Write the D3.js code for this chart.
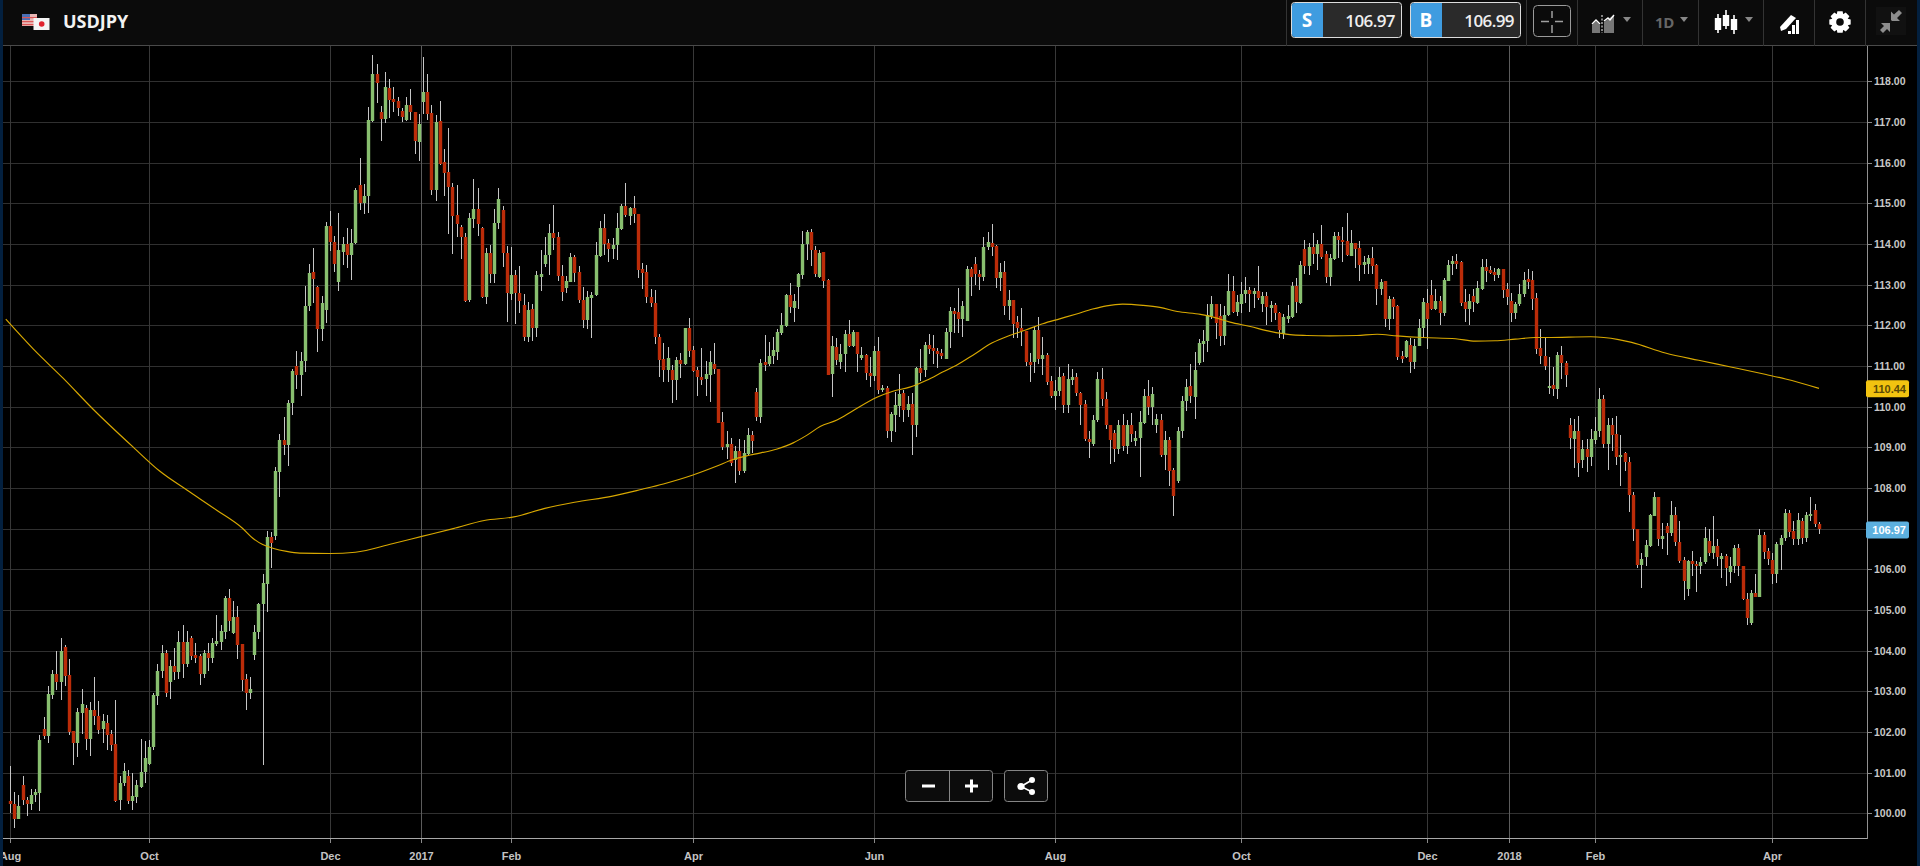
<!DOCTYPE html>
<html>
<head>
<meta charset="utf-8">
<title>USDJPY</title>
<script src="https://cdn.jsdelivr.net/npm/d3@7/dist/d3.min.js"></script>
<style>
html,body{margin:0;padding:0;background:#000;overflow:hidden}
svg{display:block}
</style>
</head>
<body>
<div id="chart"></div>
<script>
const symbol = "USDJPY";
const sellQuote = "106.97";
const buyQuote = "106.99";
const priceTicks = [100,101,102,103,104,105,106,107,108,109,110,111,112,113,114,115,116,117,118];
const monthLabels = ["Aug","Oct","Dec","2017","Feb","Apr","Jun","Aug","Oct","Dec","2018","Feb","Apr"];
const monthDays = [0,33,76,97.5,119,162,205,248,292,336,355.5,376,418];
const lastDay = 429;

const opens = [
100.30,100.23,99.86,100.70,100.33,100.23,100.45,100.51,102.07,101.90,
102.91,103.43,103.23,104.09,103.40,102.02,101.73,102.47,102.59,101.83,
102.54,102.39,102.07,102.22,101.95,101.70,100.33,100.75,100.92,100.30,
100.40,100.65,101.02,101.21,101.63,102.89,103.50,103.94,103.23,103.62,
103.48,104.21,103.67,104.31,103.89,103.87,103.43,103.94,103.82,104.16,
104.21,104.46,105.30,104.43,104.83,104.16,103.30,102.96,103.89,104.46,
105.15,105.64,106.80,106.82,108.39,109.18,109.06,110.09,111.00,110.78,
111.12,112.48,113.31,112.94,111.91,112.38,114.44,114.05,113.07,113.80,
114.00,113.73,114.02,115.45,115.01,115.18,117.02,118.18,117.25,117.07,
117.84,117.57,117.52,117.27,117.05,117.42,117.25,116.51,117.49,117.74,
117.22,115.33,117.02,116.02,115.77,115.40,114.71,114.42,114.17,112.62,
114.61,114.86,114.39,112.70,113.78,113.26,114.52,114.84,113.78,112.77,
113.24,112.80,112.50,111.71,112.40,111.93,113.19,113.51,113.73,114.27,
114.17,113.21,112.92,113.07,113.68,113.31,112.62,112.13,112.67,112.75,
113.70,114.39,114.02,113.88,113.98,114.37,114.93,114.69,114.89,114.74,
113.39,113.31,112.70,112.55,111.71,111.17,110.90,110.90,110.66,111.15,
111.05,111.93,111.39,110.90,110.73,110.68,110.78,111.05,110.93,109.62,
109.00,109.08,108.69,108.91,108.42,108.84,109.30,110.36,109.75,111.10,
111.05,111.25,111.34,111.81,111.98,112.75,112.43,112.94,113.24,114.00,
114.30,113.85,113.19,113.80,113.11,110.80,111.47,111.10,111.30,111.79,
111.49,111.84,111.20,111.27,110.84,110.76,111.38,110.43,110.47,109.41,
109.80,110.02,110.34,109.93,110.07,109.56,110.96,110.89,111.52,111.45,
111.38,111.33,111.18,111.84,112.36,112.34,112.16,112.11,113.39,113.52,
113.27,113.20,113.93,114.03,113.96,113.17,113.30,112.48,112.63,112.07,
111.94,111.87,111.11,111.11,111.89,111.18,111.28,110.64,110.25,110.39,
110.76,110.05,110.66,110.74,110.34,110.07,109.21,109.09,109.66,110.69,
110.20,109.56,109.36,108.97,109.56,109.04,109.56,109.16,109.24,109.61,
110.25,109.98,109.56,109.68,108.80,109.19,108.45,108.16,109.39,110.15,
110.50,110.23,111.07,111.53,111.61,112.22,112.52,112.22,111.73,112.25,
112.84,112.34,112.52,112.76,112.86,112.76,112.84,112.52,112.71,112.42,
112.49,112.30,111.78,112.15,112.20,112.96,112.54,113.87,113.45,113.92,
113.75,113.99,113.75,113.18,113.62,114.19,114.11,114.07,113.70,114.02,
113.89,113.48,113.52,113.65,113.48,112.89,113.08,112.15,112.64,112.47,
111.24,111.21,111.51,111.09,111.48,111.93,112.54,112.74,112.39,112.59,
112.30,113.08,113.50,113.57,113.55,112.57,112.39,112.71,112.54,112.89,
113.43,113.35,113.30,113.23,113.38,112.89,112.61,112.30,112.52,112.76,
113.13,113.11,112.66,111.45,111.25,110.52,110.54,110.44,111.28,111.08,
109.56,109.21,109.41,108.70,108.97,108.77,109.19,109.39,110.20,109.09,
109.56,109.34,108.75,108.87,108.65,107.84,107.00,106.11,106.31,106.58,
107.32,107.79,106.75,107.07,106.90,107.34,106.68,106.24,105.52,106.21,
106.14,106.07,106.19,106.70,106.41,106.58,106.26,106.34,105.94,106.09,
106.53,106.07,105.28,104.69,105.43,105.33,106.85,106.46,106.24,105.89,
106.61,106.78,107.39,106.95,106.75,107.20,106.78,107.30,107.47,107.12
];
const highs = [
101.16,100.52,100.45,100.92,100.39,100.60,100.61,101.93,102.38,103.13,
103.52,103.99,104.30,104.14,103.80,102.02,102.58,103.05,102.66,102.74,
103.35,102.76,102.44,102.42,102.05,102.79,100.92,101.24,101.07,100.98,
100.82,101.83,101.78,101.80,102.95,103.67,104.15,104.02,103.77,104.07,
104.48,104.63,104.48,104.36,104.19,103.93,104.02,104.19,104.31,104.88,
104.63,105.34,105.52,105.22,105.10,104.16,103.43,103.35,104.63,105.17,
105.89,106.94,106.91,108.52,109.33,109.75,110.16,110.93,111.36,111.34,
112.97,113.52,113.89,112.97,112.72,114.54,114.81,114.20,114.76,114.17,
114.39,114.37,115.37,116.11,115.48,117.38,118.65,118.43,117.39,118.23,
118.06,117.86,117.61,117.34,117.61,117.80,117.25,117.19,118.60,118.18,
117.42,117.17,117.52,116.33,116.85,115.49,115.44,114.47,114.26,114.75,
115.61,115.38,114.42,113.90,113.98,114.85,115.38,114.94,113.95,113.93,
113.36,113.46,112.77,112.57,112.52,113.33,113.85,114.16,114.48,114.95,
114.30,113.48,113.21,113.77,113.73,113.45,112.95,112.84,112.82,114.04,
114.57,114.74,114.12,114.14,114.75,114.98,115.49,114.90,115.19,114.74,
113.53,113.48,112.89,112.86,111.79,111.57,111.47,111.03,111.23,111.31,
111.93,112.19,111.48,110.98,111.45,111.12,111.36,111.57,110.93,109.87,
109.39,109.22,109.03,109.20,109.18,109.48,109.40,110.45,111.17,111.76,
111.58,111.71,111.91,112.30,112.76,113.04,112.76,113.29,114.32,114.34,
114.37,113.95,113.85,113.80,113.14,111.74,111.69,111.54,111.89,112.13,
111.89,111.84,111.46,111.30,111.22,111.48,111.71,110.54,110.52,109.88,
110.37,110.81,110.42,110.27,110.34,110.98,111.42,111.60,111.79,111.75,
111.44,111.42,111.93,112.46,112.43,112.93,112.60,113.46,113.44,113.69,
113.37,114.18,114.29,114.50,113.98,113.54,113.57,112.88,112.63,112.22,
112.42,111.87,111.32,111.97,112.20,111.71,111.32,110.76,110.66,110.98,
110.84,111.06,110.93,110.83,110.37,110.17,109.41,109.80,110.85,110.95,
110.37,109.56,109.43,109.66,109.83,109.66,109.84,109.41,109.90,110.44,
110.66,110.49,109.83,109.83,109.39,109.26,108.48,109.51,110.25,110.69,
111.04,111.34,111.66,111.89,112.53,112.72,112.52,112.53,112.48,113.27,
113.22,112.74,113.06,113.20,112.95,112.93,113.45,112.81,112.83,112.59,
112.54,112.32,112.27,112.49,113.06,113.16,113.57,114.11,114.03,114.26,
114.09,114.46,113.84,113.75,114.29,114.29,114.43,114.75,114.34,114.02,
114.08,113.70,113.72,113.92,113.50,113.13,113.08,112.71,112.69,112.49,
111.36,111.63,111.70,111.66,112.15,112.66,112.89,113.11,112.89,112.71,
113.16,113.60,113.70,113.76,113.57,112.89,112.76,112.89,113.08,113.64,
113.64,113.45,113.40,113.40,113.38,113.03,112.79,112.57,113.01,113.31,
113.39,113.33,112.79,111.90,111.68,111.21,110.98,111.35,111.48,111.13,
109.73,109.70,109.77,109.19,109.21,109.45,109.75,110.47,110.29,109.71,
109.73,109.78,109.30,108.89,108.77,107.89,107.00,106.39,106.73,107.37,
107.89,107.79,107.14,107.15,107.68,107.54,107.20,106.30,106.24,106.46,
106.21,106.31,107.05,106.98,107.30,106.75,106.39,106.37,106.31,106.61,
106.63,106.09,105.42,105.48,105.89,107.00,106.93,106.53,106.41,106.66,
106.84,107.49,107.46,107.20,107.39,107.27,107.42,107.79,107.61,107.17
];
const lows = [
100.00,99.64,99.86,100.20,99.93,100.08,100.29,100.06,101.83,101.74,
102.81,103.03,102.79,103.13,101.93,101.20,101.39,101.95,101.56,101.41,
102.17,101.95,101.73,101.56,101.53,100.29,100.08,100.67,100.23,100.08,
100.25,100.62,100.75,101.19,101.56,102.66,103.33,102.86,102.80,103.28,
103.30,103.33,103.60,103.77,103.69,103.16,103.34,103.50,103.70,104.11,
104.02,104.29,104.48,104.41,103.80,103.01,102.54,102.81,103.77,104.29,
101.19,104.95,106.03,106.72,107.77,108.80,108.55,109.80,110.44,110.26,
110.85,112.35,112.54,111.34,111.61,112.05,113.83,113.31,112.85,113.48,
113.41,113.11,114.00,114.84,114.73,114.76,117.00,117.47,116.53,116.98,
117.10,117.25,117.15,117.00,117.02,117.05,116.21,116.04,117.20,117.05,
115.20,115.06,115.94,115.18,114.25,113.75,114.17,113.63,112.57,112.57,
114.39,114.20,112.67,112.52,113.03,113.04,114.37,113.44,112.07,112.62,
112.03,112.30,111.61,111.59,111.61,111.72,112.84,113.43,113.24,113.85,
113.09,112.61,112.80,113.07,113.07,112.54,111.93,111.91,111.68,112.72,
113.68,113.73,113.55,113.63,113.60,114.34,114.66,114.47,114.51,113.16,
112.89,112.56,112.46,111.54,110.72,110.61,110.61,110.10,110.16,110.70,
111.02,111.22,110.85,110.26,110.53,110.26,110.11,110.80,109.60,108.93,
108.71,108.54,108.13,108.32,108.38,108.81,108.85,109.65,109.60,110.87,
111.00,111.05,111.15,111.77,111.96,112.30,112.08,112.39,113.14,113.61,
113.46,113.19,113.16,112.92,110.78,110.23,111.02,110.93,110.85,111.47,
111.47,110.85,111.15,110.66,110.49,110.64,110.32,110.37,109.23,109.12,
109.38,109.75,109.63,109.75,108.82,109.26,110.64,110.74,111.30,111.06,
110.94,111.16,111.16,111.45,111.82,111.80,111.72,112.11,112.73,112.98,
112.88,113.10,113.86,113.71,112.93,112.85,112.26,112.14,111.70,111.70,
111.48,111.01,110.61,110.84,111.06,110.78,110.54,110.22,109.93,110.25,
109.85,109.85,110.54,110.25,109.56,109.16,108.73,109.04,109.63,110.02,
109.45,108.60,108.64,108.84,108.92,108.84,109.14,109.04,108.27,109.58,
109.80,109.56,109.35,108.77,108.45,108.04,107.32,108.13,109.24,109.90,
110.08,109.69,111.02,111.11,111.35,112.15,111.66,111.49,111.51,112.23,
112.31,112.22,112.31,112.54,112.32,112.43,112.63,112.32,112.00,112.07,
112.12,111.70,111.66,112.05,112.17,112.30,112.52,113.25,113.24,113.50,
113.35,113.62,113.03,112.96,113.60,113.65,113.55,113.70,113.70,113.40,
113.10,113.25,113.25,113.25,112.49,112.74,111.95,111.89,112.15,111.14,
111.07,111.20,110.84,110.93,111.48,111.68,111.41,112.37,112.37,112.00,
112.22,113.08,113.23,113.38,112.47,112.07,112.02,112.32,112.52,112.86,
113.06,113.25,113.08,113.16,112.66,112.49,112.07,112.16,112.47,112.70,
112.89,112.37,111.29,111.04,110.91,110.32,110.25,110.20,110.69,110.48,
108.97,108.50,108.28,108.50,108.40,108.55,109.09,109.26,108.98,108.45,
108.92,108.57,108.04,108.43,107.40,106.70,106.03,105.55,106.09,106.56,
107.30,106.58,106.51,106.36,106.83,106.58,106.16,105.25,105.34,105.84,
105.45,105.89,106.14,106.32,106.26,106.07,105.78,105.60,105.67,105.92,
105.84,105.25,104.64,104.64,105.33,105.33,106.26,106.11,105.65,105.67,
105.99,106.70,106.80,106.61,106.61,106.63,106.68,107.20,107.05,106.88
];
const closes = [
100.23,99.86,100.18,100.33,100.23,100.45,100.52,101.80,101.90,102.93,
103.43,103.23,103.99,103.38,102.00,101.73,102.49,102.69,101.83,102.54,
102.39,102.05,102.27,101.93,101.68,100.30,100.75,101.04,100.30,100.43,
100.70,101.02,101.36,101.63,102.91,103.50,103.94,102.96,103.62,103.48,
104.21,103.67,104.21,103.87,103.82,103.43,103.94,103.82,104.19,104.24,
104.48,105.30,104.73,104.83,104.14,103.28,102.96,103.06,104.46,105.15,
105.66,106.80,106.65,108.42,109.18,109.06,110.09,110.88,110.78,111.12,
112.48,113.29,113.14,111.91,112.55,114.44,114.05,113.51,113.85,114.00,
113.73,114.02,115.33,115.01,115.18,117.05,118.18,117.96,117.07,117.86,
117.55,117.49,117.34,117.12,117.42,117.25,116.53,116.95,117.74,117.20,
115.33,117.00,115.97,115.75,115.40,114.69,114.49,114.17,112.60,114.64,
114.86,114.49,112.70,113.78,113.26,114.52,115.11,113.78,112.80,113.24,
112.80,112.60,111.71,112.38,111.93,113.24,113.26,113.73,114.27,114.15,
113.21,112.82,113.09,113.68,113.29,112.62,112.13,112.70,112.75,113.73,
114.39,114.00,113.88,113.98,114.39,114.93,114.71,114.89,114.74,113.36,
113.29,112.70,112.55,111.71,111.15,110.90,111.20,110.66,111.15,111.05,
111.93,111.37,110.88,110.73,110.66,110.80,111.10,110.93,109.60,109.01,
109.08,108.61,108.91,108.42,108.86,109.30,109.16,109.75,111.07,111.02,
111.25,111.39,111.84,112.01,112.75,112.45,112.60,113.26,114.00,114.30,
113.85,113.26,113.78,113.09,110.78,111.49,111.15,111.30,111.79,111.49,
111.84,111.30,111.27,110.83,110.76,111.38,110.42,110.47,109.41,109.83,
110.05,110.30,109.93,110.07,109.56,110.96,110.84,111.52,111.43,111.38,
111.30,111.25,111.84,112.36,112.29,112.16,112.48,113.39,113.20,113.25,
113.20,113.93,114.06,113.93,113.17,113.30,112.48,112.63,112.04,111.94,
111.87,111.11,111.03,111.89,111.18,111.28,110.61,110.25,110.39,110.74,
110.05,110.69,110.74,110.34,110.05,109.21,109.14,109.66,110.69,110.20,
109.56,109.19,108.97,109.56,109.04,109.56,109.34,109.24,109.63,110.25,
109.98,110.32,109.70,108.80,109.19,108.43,107.81,109.41,110.15,110.49,
110.25,110.89,111.57,111.61,112.25,112.52,112.05,111.73,112.25,112.84,
112.34,112.57,112.76,112.86,112.76,112.84,112.66,112.71,112.44,112.49,
112.30,111.88,112.20,112.22,112.96,112.57,113.48,113.45,113.92,113.75,
113.99,113.67,113.18,113.65,114.19,114.09,114.04,113.72,114.02,113.87,
113.48,113.55,113.65,113.45,112.89,113.06,112.15,112.64,112.44,111.21,
111.16,111.61,111.09,111.48,111.93,112.57,112.15,112.39,112.59,112.30,
113.11,113.48,113.57,113.50,112.54,112.39,112.61,112.57,112.91,113.43,
113.33,113.28,113.23,113.38,112.86,112.69,112.30,112.52,112.76,113.11,
113.06,112.64,111.43,111.25,111.00,110.52,110.44,111.28,111.08,110.79,
109.24,109.41,108.62,108.97,108.77,109.21,109.41,110.20,109.07,109.56,
109.31,108.75,108.82,108.65,107.84,107.00,106.11,106.26,106.61,107.34,
107.79,106.75,106.83,106.90,107.34,106.68,106.21,105.72,106.21,106.14,
106.07,106.19,106.78,106.41,106.58,106.31,106.34,106.04,106.09,106.53,
106.07,105.28,104.81,105.43,105.33,106.85,106.43,106.26,105.89,106.63,
106.78,107.39,106.93,106.75,107.22,106.78,107.34,107.37,107.12,106.98
];

const maDays = [-1,5.5,12.6,19.8,29.3,35.6,42,49,55.2,57.6,60,62.4,65.7,68.8,76,82,90.7,97.7,105.2,112.6,119.7,127,134,143,150,155,162,167.7,171.5,175.6,182,185.8,189.1,192.2,196.2,200,205.7,209.5,213.5,217.5,221.3,224.8,228.4,233.1,237.2,241.2,245.1,249.1,253.1,256.9,260.2,264,268.8,272.8,276.9,282.4,284.8,289.4,294.2,298.9,303.6,307.6,313,319.4,324.2,328.9,335,342.8,347.5,352.2,357,361.7,364.6,375,381.6,384.7,392.7,400.6,408.5,416.6,421.2,429];
const maValues = [112.15,111.42,110.70,109.93,109.00,108.41,107.95,107.46,107.01,106.77,106.61,106.52,106.44,106.40,106.39,106.42,106.63,106.81,107.00,107.20,107.29,107.50,107.65,107.80,107.97,108.10,108.32,108.54,108.70,108.81,108.96,109.11,109.30,109.51,109.67,109.90,110.23,110.38,110.48,110.65,110.85,111.03,111.26,111.57,111.75,111.89,112.04,112.16,112.28,112.40,112.48,112.52,112.49,112.44,112.34,112.27,112.22,112.08,111.97,111.85,111.77,111.75,111.74,111.75,111.78,111.74,111.70,111.67,111.61,111.62,111.66,111.70,111.70,111.72,111.65,111.58,111.32,111.14,110.97,110.79,110.68,110.45];
const maLast = 110.44;
const lastClose = 106.97;

const W = 1920, H = 866, headerH = 45, axisBottom = 838, axisRight = 1867;
const dayKnots = monthDays.concat([lastDay]);
const pixelKnots = [10,149,330,421,511,693,874,1055,1241,1427,1509,1595,1772,1819];
const x = d3.scaleLinear().domain(dayKnots).range(pixelKnots);
const y = d3.scaleLinear().domain([118,100]).range([81.33,813.33]);
const cx = d => Math.round(x(d)) + 0.5;
const cy = v => Math.round(y(v));

const svg = d3.select("#chart").append("svg").attr("width",W).attr("height",H).style("background","#000");
const defs = svg.append("defs");
defs.append("filter").attr("id","soft").append("feGaussianBlur").attr("stdDeviation",0.55);

const grid = svg.append("g");
grid.selectAll("line.h").data(priceTicks).join("line").attr("class","h")
  .attr("x1",3).attr("x2",axisRight).attr("y1",d=>cy(d)+.5).attr("y2",d=>cy(d)+.5)
  .attr("stroke","#303030");
grid.selectAll("line.v").data(monthDays).join("line").attr("class","v")
  .attr("y1",headerH).attr("y2",axisBottom).attr("x1",cx).attr("x2",cx)
  .attr("stroke",(d,i)=>/^\d{4}$/.test(monthLabels[i])?"#5c5c5c":"#383838");

const candles = d3.range(opens.length);
const plot = svg.append("g");
plot.selectAll("line.wick").data(candles).join("line").attr("class","wick")
  .attr("x1",cx).attr("x2",cx).attr("y1",i=>cy(highs[i])).attr("y2",i=>cy(lows[i]))
  .attr("stroke","#c6c6c6").attr("stroke-width",1);
plot.selectAll("rect.body").data(candles).join("rect").attr("class","body")
  .attr("x",i=>cx(i)-1.7).attr("width",3.4)
  .attr("y",i=>cy(Math.max(opens[i],closes[i])))
  .attr("height",i=>Math.max(2,cy(Math.min(opens[i],closes[i]))-cy(Math.max(opens[i],closes[i]))))
  .attr("fill",i=>closes[i]>=opens[i]?"#88bf6f":"#bb2c09");

const ma = d3.line().x(d=>x(d)).y((d,i)=>y(maValues[i])).curve(d3.curveMonotoneX);
plot.append("path").attr("d",ma(maDays)).attr("fill","none").attr("stroke","#d8a800").attr("stroke-width",1.15);

// axes
const xAxis = d3.axisBottom(x).tickValues(monthDays).tickFormat((d,i)=>monthLabels[i]).tickSize(5).tickPadding(9);
const gx = svg.append("g").attr("transform",`translate(0,${axisBottom})`).call(xAxis);
gx.select(".domain").remove();
gx.selectAll(".tick").attr("transform",d=>`translate(${cx(d)},0)`);
gx.selectAll(".tick line").attr("stroke","#8a8a8a");
gx.selectAll(".tick text").attr("fill","#c4c4c4").style("font","bold 11px 'Liberation Sans',Arial,sans-serif");
svg.append("line").attr("x1",3).attr("x2",axisRight).attr("y1",axisBottom+.5).attr("y2",axisBottom+.5).attr("stroke","#a8a8a8");

const yAxis = d3.axisRight(y).tickValues(priceTicks).tickFormat(d3.format(".2f")).tickSize(5).tickPadding(2);
const gy = svg.append("g").attr("transform",`translate(${axisRight},0)`).call(yAxis);
gy.select(".domain").remove();
gy.selectAll(".tick").attr("transform",d=>`translate(0,${cy(d)+.5})`);
gy.selectAll(".tick line").attr("stroke","#8a8a8a");
gy.selectAll(".tick text").attr("fill","#c8c8c8").style("font","bold 10.5px 'Liberation Sans',Arial,sans-serif");
svg.append("line").attr("x1",axisRight+.5).attr("x2",axisRight+.5).attr("y1",headerH).attr("y2",axisBottom+1).attr("stroke","#909090");

function badge(value, fill, color){
  const yy = y(value);
  const g = svg.append("g");
  g.append("rect").attr("x",1866).attr("y",yy-8.5).attr("width",43).attr("height",17).attr("rx",2).attr("fill",fill);
  g.append("text").attr("x",1906).attr("y",yy+4).attr("text-anchor","end")
    .attr("fill",color).style("font","bold 11px 'Liberation Sans',Arial,sans-serif").text(value.toFixed(2));
}
badge(maLast,"#f2c310","#5b4a05");
badge(lastClose,"#5cb0df","#ffffff");

// header
const hd = svg.append("g");
hd.append("rect").attr("width",W).attr("height",headerH).attr("fill","#0b0b0b");
hd.append("line").attr("x1",0).attr("x2",W).attr("y1",45.5).attr("y2",45.5).attr("stroke","#4a4a4a");
[1286,1526,1577,1642,1698,1763,1814,1865].forEach(px=>
  hd.append("line").attr("x1",px+.5).attr("x2",px+.5).attr("y1",0).attr("y2",46).attr("stroke","#333"));

// flags
const fl = hd.append("g").attr("filter","url(#soft)");
fl.append("rect").attr("x",22).attr("y",14).attr("width",15).attr("height",12).attr("fill","#e8b7b5");
fl.append("rect").attr("x",22).attr("y",14).attr("width",8).attr("height",6).attr("fill","#4c6fb5");
[17,21,24].forEach(v=>fl.append("rect").attr("x",22).attr("y",v).attr("width",15).attr("height",1.2).attr("fill","#d55"));
fl.append("rect").attr("x",33.5).attr("y",18).attr("width",16).attr("height",12).attr("fill","#f4f4f4");
fl.append("circle").attr("cx",41.7).attr("cy",24).attr("r",2.8).attr("fill","#e0222e");

hd.append("text").attr("x",63).attr("y",28).attr("fill","#f2f2f2")
  .style("font","700 18px 'Open Sans',sans-serif").text(symbol);

function quote(x0, label, val){
  const g = hd.append("g");
  g.append("rect").attr("x",x0+.5).attr("y",2.5).attr("width",110).attr("height",35).attr("rx",3).attr("fill","#2a2a2a").attr("stroke","#dcdcdc");
  g.append("path").attr("d",`M${x0+1},6 a3,3 0 0 1 3,-3 H${x0+32} V37 H${x0+4} a3,3 0 0 1 -3,-3 Z`).attr("fill","#3f9ce0");
  g.append("text").attr("x",x0+16).attr("y",27).attr("text-anchor","middle").attr("fill","#fff")
    .style("font","700 19px 'Open Sans',sans-serif").text(label);
  g.append("text").attr("x",x0+104).attr("y",26.5).attr("text-anchor","end").attr("fill","#efefef")
    .style("font","600 17px 'Open Sans',sans-serif").style("letter-spacing","-0.6px").text(val);
}
quote(1291,"S",sellQuote);
quote(1410,"B",buyQuote);

// crosshair button
hd.append("rect").attr("x",1533.5).attr("y",5.5).attr("width",37).attr("height",31).attr("rx",4).attr("fill","#0b0b0b").attr("stroke","#9a9a9a");
[[1541,21.5,1549,21.5],[1555,21.5,1563,21.5],[1552,11,1552,18],[1552,25,1552,33]].forEach(a=>
  hd.append("line").attr("x1",a[0]).attr("y1",a[1]).attr("x2",a[2]).attr("y2",a[3]).attr("stroke","#a0a0a0").attr("stroke-width",1.5));

const tri = (x0,y0,c)=>hd.append("path").attr("d",`M${x0},${y0} h8 l-4,5 Z`).attr("fill",c);
// compare icon
hd.append("path").attr("d","M1592,33 V25 L1596,21 L1600,25 V33 Z").attr("fill","#777");
hd.append("path").attr("d","M1604,33 V22 L1608,19 L1614,15 V33 Z").attr("fill","#777");
hd.append("path").attr("d","M1592,24 L1596,20 L1600,24 M1604,21 L1608,18 L1610,20 L1614,15").attr("fill","none").attr("stroke","#fff").attr("stroke-width",1.4);
hd.append("line").attr("x1",1602).attr("x2",1602).attr("y1",15).attr("y2",33).attr("stroke","#fff").attr("stroke-dasharray","2 1.5");
tri(1623,17,"#888");
hd.append("text").attr("x",1655).attr("y",28).attr("fill","#666").style("font","700 15px 'Open Sans',sans-serif").style("letter-spacing","-0.4px").text("1D");
tri(1680,17,"#888");
// candle icon
[[1718,14,18,30,33],[1726,10,15,26,29],[1734,15,19,30,34]].forEach(a=>{
  hd.append("line").attr("x1",a[0]).attr("x2",a[0]).attr("y1",a[1]).attr("y2",a[4]).attr("stroke","#fff").attr("stroke-width",1.6);
  hd.append("rect").attr("x",a[0]-3.2).attr("y",a[2]).attr("width",6.4).attr("height",a[3]-a[2]).attr("fill","#fff");
});
tri(1745,17,"#888");
// draw icon
hd.append("path").attr("d","M1780,27 L1791,15 L1796,18 L1786,29 L1781,31 Z").attr("fill","#fff");
[[1788,31,3,3],[1792,25,3,9],[1796,20,3,14]].forEach(a=>
  hd.append("rect").attr("x",a[0]).attr("y",a[1]).attr("width",a[2]).attr("height",a[3]).attr("fill","#fff"));
// gear
const gearPts = d3.range(0,8).flatMap(k=>{
  const a = k*Math.PI/4, w = 0.24;
  const p = (r,t)=>[1840+r*Math.cos(t),22+r*Math.sin(t)];
  return [p(8.3,a-w*1.7),p(11,a-w),p(11,a+w),p(8.3,a+w*1.7)];
});
hd.append("path").attr("d","M"+gearPts.map(p=>p.join(",")).join("L")+"Z").attr("fill","#fff");
hd.append("circle").attr("cx",1840).attr("cy",22).attr("r",3.8).attr("fill","#0b0b0b");
// compress
hd.append("rect").attr("x",1876).attr("y",7).attr("width",30).attr("height",28).attr("fill","#111");
hd.append("path").attr("d","M1891,20 V11.5 L1894,14.5 L1899,10 L1902,13 L1897,18 L1900,21 H1892 Z").attr("fill","#8d8d8d");
hd.append("path").attr("d","M1890,23 V32 L1887,29 L1883,33 L1880,30 L1884,26 L1881,23 Z").attr("fill","#8d8d8d");

// side strips
svg.append("rect").attr("x",0).attr("y",0).attr("width",3).attr("height",H).attr("fill","#03203f");
svg.append("rect").attr("x",1917).attr("y",0).attr("width",3).attr("height",H).attr("fill","#03203f");

// zoom / share buttons
const bt = svg.append("g");
bt.append("rect").attr("x",905.5).attr("y",770.5).attr("width",87).attr("height",31).attr("rx",3).attr("fill","#0c0c0c").attr("stroke","#858585");
bt.append("line").attr("x1",949.5).attr("x2",949.5).attr("y1",771).attr("y2",801).attr("stroke","#858585");
bt.append("rect").attr("x",922).attr("y",784.5).attr("width",13).attr("height",3).attr("fill","#fff");
bt.append("rect").attr("x",965).attr("y",784.5).attr("width",13).attr("height",3).attr("fill","#fff");
bt.append("rect").attr("x",970).attr("y",779.5).attr("width",3).attr("height",13).attr("fill","#fff");
bt.append("rect").attr("x",1004.5).attr("y",770.5).attr("width",43).attr("height",31).attr("rx",3).attr("fill","#0c0c0c").attr("stroke","#858585");
bt.append("path").attr("d","M1032,780 L1021,786.5 L1032,792").attr("fill","none").attr("stroke","#fff").attr("stroke-width",1.6);
[[1032,780,3],[1021,786.5,3.6],[1032,792,3]].forEach(a=>
  bt.append("circle").attr("cx",a[0]).attr("cy",a[1]).attr("r",a[2]).attr("fill","#fff"));
</script>
</body>
</html>
